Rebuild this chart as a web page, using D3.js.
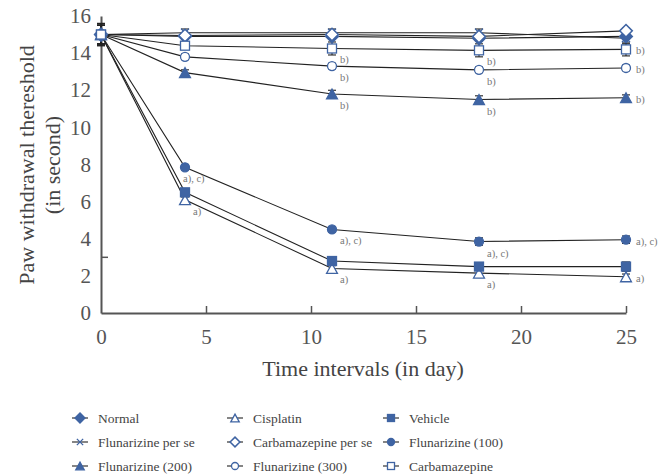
<!DOCTYPE html>
<html>
<head>
<meta charset="utf-8">
<script src="https://cdn.jsdelivr.net/npm/d3@7"></script>
<style>
  body { margin: 0; background: #fff; }
  text { font-family: "Liberation Serif", "DejaVu Serif", serif; }
</style>
</head>
<body>
<svg id="chart"></svg>
<script>
// days of measurement
const days = [0, 4, 11, 18, 25];

// series names, in legend order
const seriesNames = [
  "Normal", "Cisplatin", "Vehicle",
  "Flunarizine per se", "Carbamazepine per se", "Flunarizine (100)",
  "Flunarizine (200)", "Flunarizine (300)", "Carbamazepine"
];

// mean paw withdrawal threshold per series
const normalVals = [15.0, 14.9, 14.9, 14.8, 14.9];
const cisplatinVals = [15.0, 6.1, 2.4, 2.15, 1.95];
const vehicleVals = [15.0, 6.5, 2.8, 2.5, 2.5];
const flunSeVals = [15.0, 15.1, 15.1, 15.1, 14.8];
const carbSeVals = [15.0, 14.95, 15.0, 14.9, 15.2];
const flun100Vals = [15.0, 7.85, 4.5, 3.85, 3.95];
const flun200Vals = [15.0, 12.95, 11.8, 11.5, 11.6];
const flun300Vals = [15.0, 13.8, 13.3, 13.1, 13.2];
const carbVals = [15.0, 14.4, 14.25, 14.15, 14.2];

// error (SEM) per series
const normalErr = [0.6, 0.15, 0.15, 0.15, 0.15];
const cisplatinErr = [0.5, 0.15, 0.15, 0.15, 0.15];
const vehicleErr = [0.5, 0.15, 0.15, 0.2, 0.25];
const flunSeErr = [0.6, 0.2, 0.2, 0.2, 0.3];
const carbSeErr = [0.5, 0.15, 0.15, 0.15, 0.15];
const flun100Err = [0.5, 0.15, 0.15, 0.2, 0.2];
const flun200Err = [0.5, 0.15, 0.2, 0.2, 0.15];
const flun300Err = [0.5, 0.15, 0.15, 0.15, 0.15];
const carbErr = [0.5, 0.2, 0.35, 0.35, 0.35];

// significance labels per point
const cisplatinNotes = ["", "a)", "a)", "a)", "a)"];
const flun100Notes = ["", "a), c)", "a), c)", "a), c)", "a), c)"];
const bNotes = ["", "", "b)", "b)", "b)"];

const xTicks = [0, 5, 10, 15, 20, 25];
const yTicks = [0, 2, 4, 6, 8, 10, 12, 14, 16];

const blue = "#3f64a3";

const series = [
  { name: seriesNames[0], vals: normalVals, err: normalErr, shape: "diamond", fill: true },
  { name: seriesNames[1], vals: cisplatinVals, err: cisplatinErr, shape: "triangle", fill: false, notes: cisplatinNotes },
  { name: seriesNames[2], vals: vehicleVals, err: vehicleErr, shape: "square", fill: true },
  { name: seriesNames[3], vals: flunSeVals, err: flunSeErr, shape: "cross", fill: false },
  { name: seriesNames[4], vals: carbSeVals, err: carbSeErr, shape: "diamond", fill: false },
  { name: seriesNames[5], vals: flun100Vals, err: flun100Err, shape: "circle", fill: true, notes: flun100Notes },
  { name: seriesNames[6], vals: flun200Vals, err: flun200Err, shape: "triangle", fill: true, notes: bNotes },
  { name: seriesNames[7], vals: flun300Vals, err: flun300Err, shape: "circle", fill: false, notes: bNotes },
  { name: seriesNames[8], vals: carbVals, err: carbErr, shape: "square", fill: false, notes: bNotes }
];

const width = 667, height = 476;
const margin = { top: 16, left: 101 };
const plotW = 525, plotH = 297;

const svg = d3.select("#chart").attr("width", width).attr("height", height);
const chart = svg.append("g").attr("transform", `translate(${margin.left},${margin.top})`);

const x = d3.scaleLinear().domain([0, 25]).range([0, plotW]);
const y = d3.scaleLinear().domain([0, 16]).range([plotH, 0]);

const axisColor = "#555";

// x axis, ticks pointing up
const xAxis = chart.append("g")
  .attr("transform", `translate(0,${plotH})`)
  .call(d3.axisBottom(x).tickValues(xTicks).tickSize(-7).tickPadding(16).tickSizeOuter(0));
xAxis.select(".domain").attr("stroke", axisColor).attr("stroke-width", 2);
xAxis.selectAll(".tick line").attr("stroke", axisColor).attr("stroke-width", 1.5);
xAxis.selectAll(".tick text").attr("fill", "#555").style("font-size", "21px");
xAxis.selectAll(".tick").filter(d => d === 0).select("line").remove();

// y axis, no ticks
const yAxis = chart.append("g")
  .call(d3.axisLeft(y).tickValues(yTicks).tickSize(0).tickPadding(10).tickSizeOuter(0));
yAxis.select(".domain").attr("stroke", axisColor).attr("stroke-width", 2);
yAxis.selectAll(".tick text").attr("fill", "#555").style("font-size", "21px");

// stray tick on the y axis at 3
chart.append("line")
  .attr("x1", 0).attr("x2", 7)
  .attr("y1", y(3)).attr("y2", y(3))
  .attr("stroke", axisColor).attr("stroke-width", 1.5);

// axis titles
svg.append("text")
  .attr("x", 363).attr("y", 376)
  .attr("text-anchor", "middle")
  .attr("fill", "#444")
  .style("font-size", "22px")
  .text("Time intervals (in day)");

const yTitle = svg.append("text")
  .attr("transform", "translate(0,165) rotate(-90)")
  .attr("text-anchor", "middle")
  .attr("fill", "#444")
  .style("font-size", "22px");
yTitle.append("tspan").attr("x", 0).attr("y", 34).text("Paw withdrawal thereshold");
yTitle.append("tspan").attr("x", 0).attr("y", 60).text("(in second)");

// marker drawing
function drawMarker(g, shape, filled, s) {
  const fill = filled ? blue : "#fff";
  if (shape === "square") {
    g.append("rect").attr("x", -s / 2).attr("y", -s / 2).attr("width", s).attr("height", s)
      .attr("fill", fill).attr("stroke", blue).attr("stroke-width", 1.3);
  } else if (shape === "circle") {
    g.append("circle").attr("r", s / 2).attr("fill", fill).attr("stroke", blue).attr("stroke-width", 1.3);
  } else if (shape === "diamond") {
    const d = s * 0.7;
    g.append("path").attr("d", `M0,${-d}L${d},0L0,${d}L${-d},0Z`)
      .attr("fill", fill).attr("stroke", blue).attr("stroke-width", 1.5);
  } else if (shape === "triangle") {
    const h = s * 0.55;
    g.append("path").attr("d", `M0,${-h}L${h * 1.1},${h}L${-h * 1.1},${h}Z`)
      .attr("fill", fill).attr("stroke", blue).attr("stroke-width", 1.3);
  } else if (shape === "cross") {
    const c = s * 0.45;
    g.append("path").attr("d", `M${-c},${-c}L${c},${c}M${-c},${c}L${c},${-c}`)
      .attr("stroke", blue).attr("stroke-width", 1.3).attr("fill", "none");
  }
}

const line = d3.line().x(d => x(d[0])).y(d => y(d[1]));

// lines
series.forEach(s => {
  chart.append("path")
    .datum(days.map((d, i) => [d, s.vals[i]]))
    .attr("d", line)
    .attr("fill", "none")
    .attr("stroke", "#222")
    .attr("stroke-width", 1.1);
});

// error bars
series.forEach(s => {
  days.forEach((d, i) => {
    const g = chart.append("g").attr("stroke", "#222").attr("stroke-width", 1.1);
    const lo = y(s.vals[i] - s.err[i]), hi = y(s.vals[i] + s.err[i]);
    g.append("line").attr("x1", x(d)).attr("x2", x(d)).attr("y1", lo).attr("y2", hi);
    g.append("line").attr("x1", x(d) - 4).attr("x2", x(d) + 4).attr("y1", lo).attr("y2", lo);
    g.append("line").attr("x1", x(d) - 4).attr("x2", x(d) + 4).attr("y1", hi).attr("y2", hi);
  });
});

// markers
series.forEach(s => {
  days.forEach((d, i) => {
    const g = chart.append("g").attr("transform", `translate(${x(d)},${y(s.vals[i])})`);
    drawMarker(g, s.shape, s.fill, 9);
  });
});

// significance notes
series.filter(s => s.notes).forEach(s => {
  days.forEach((d, i) => {
    const t = s.notes[i];
    if (!t) return;
    const last = i === days.length - 1;
    let dx = 8;
    if (last) dx = 10;
    else if (i === 1 && t.length > 2) dx = -2;
    chart.append("text")
      .attr("x", x(d) + dx)
      .attr("y", y(s.vals[i]) + (last ? 5 : 15))
      .attr("fill", "#777")
      .style("font-size", "10.5px")
      .text(t);
  });
});

// legend
const legendCols = [80, 235, 391];
const legendRows = [418, 442, 466];
series.forEach((s, i) => {
  const cx = legendCols[i % 3], cy = legendRows[Math.floor(i / 3)];
  const g = svg.append("g").attr("transform", `translate(${cx},${cy})`);
  g.append("line").attr("x1", -8).attr("x2", 8).attr("stroke", "#222").attr("stroke-width", 1.1);
  drawMarker(g, s.shape, s.fill, 7);
  g.append("text")
    .attr("x", 18).attr("y", 5)
    .attr("fill", "#444")
    .style("font-size", "13.5px")
    .text(s.name);
});
</script>
</body>
</html>
